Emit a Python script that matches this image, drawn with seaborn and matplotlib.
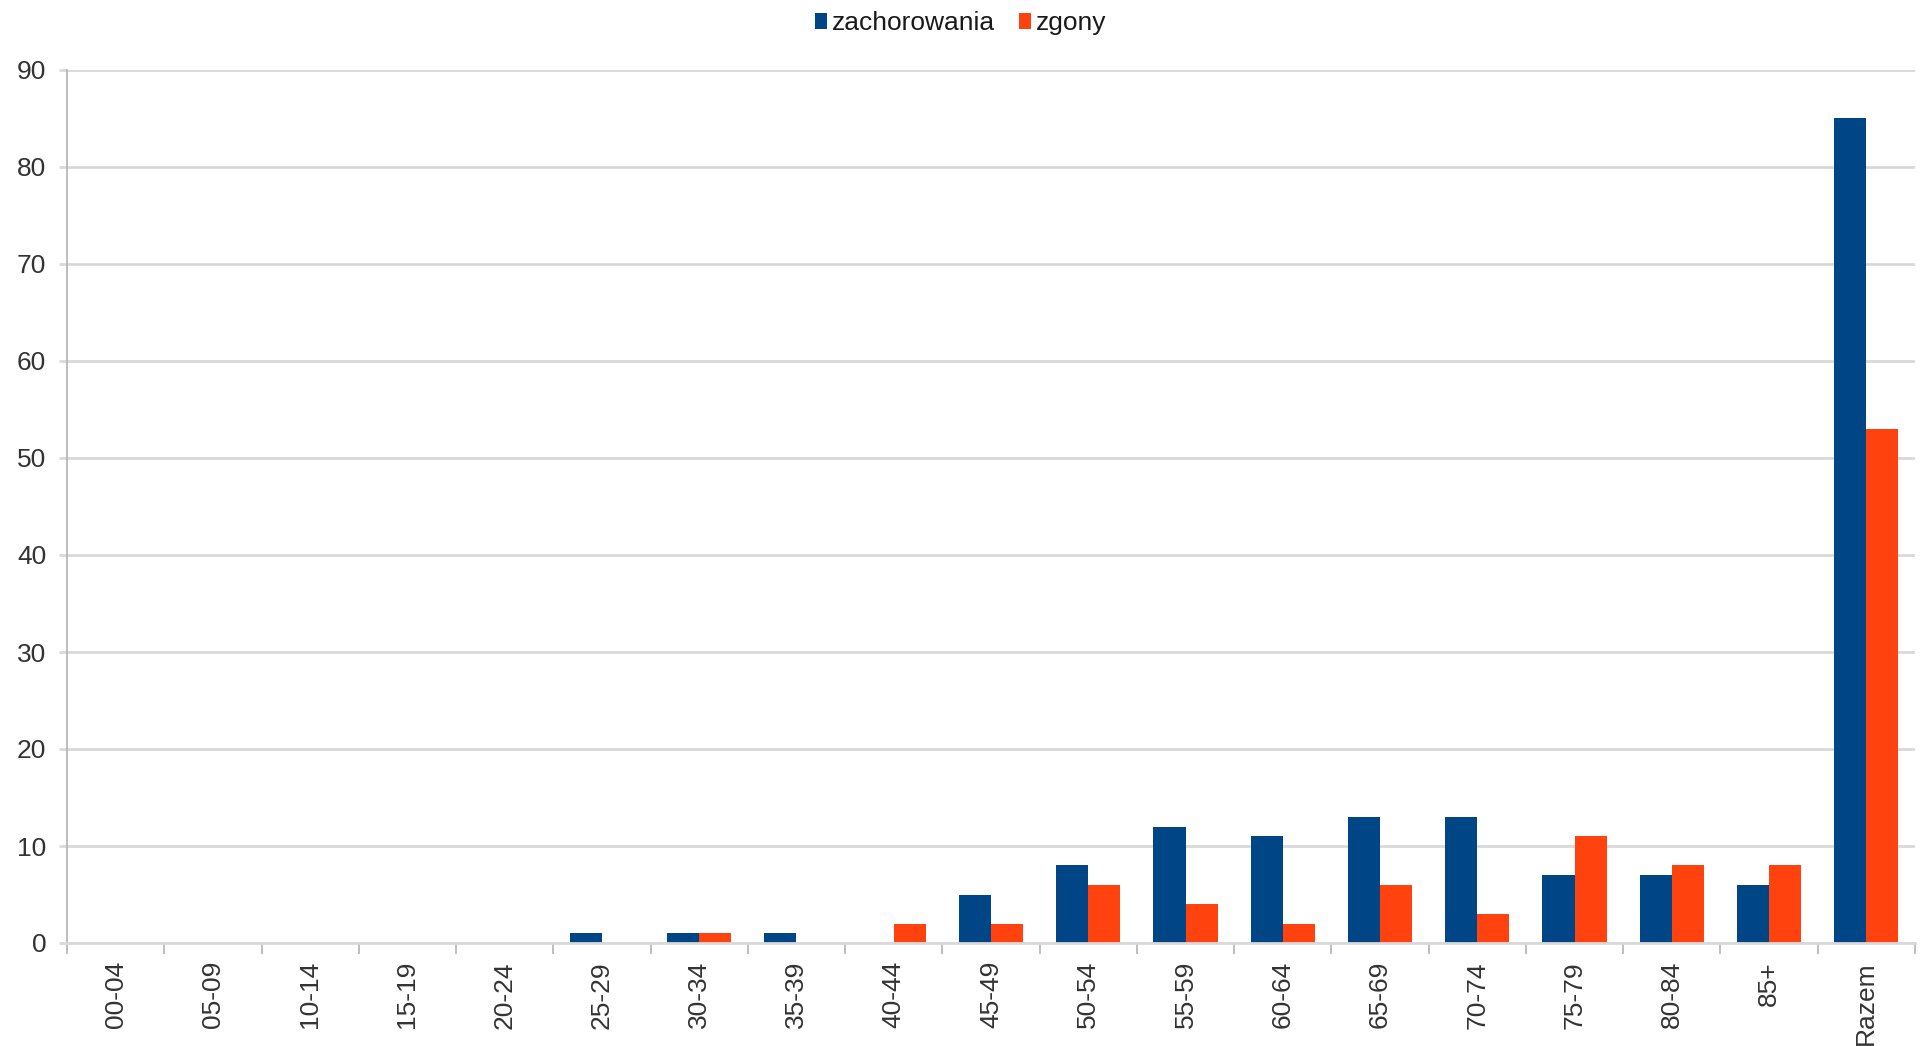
import numpy as np
import pandas as pd
import matplotlib
matplotlib.use("Agg")
import matplotlib.pyplot as plt
import seaborn as sns
from matplotlib.patches import Patch

categories = ["00-04", "05-09", "10-14", "15-19", "20-24", "25-29", "30-34", "35-39",
              "40-44", "45-49", "50-54", "55-59", "60-64", "65-69", "70-74", "75-79",
              "80-84", "85+", "Razem"]
zachorowania = [0, 0, 0, 0, 0, 1, 1, 1, 0, 5, 8, 12, 11, 13, 13, 7, 7, 6, 85]
zgony = [0, 0, 0, 0, 0, 0, 1, 0, 2, 2, 6, 4, 2, 6, 3, 11, 8, 8, 53]
series_names = ["zachorowania", "zgony"]
colors = ["#004586", "#ff420e"]
yticks = [0, 10, 20, 30, 40, 50, 60, 70, 80, 90]

df = pd.DataFrame({
    "grupa": categories * 2,
    "wartosc": zachorowania + zgony,
    "seria": [series_names[0]] * len(categories) + [series_names[1]] * len(categories),
})

sns.set_theme(style="white")
plt.rcParams["font.family"] = ["Liberation Sans", "DejaVu Sans"]

fig = plt.figure(figsize=(19.21, 10.46), dpi=100)
ax = fig.add_axes([67 / 1921, 1 - 943 / 1046, (1915 - 67) / 1921, (943 - 70) / 1046])

sns.barplot(data=df, x="grupa", y="wartosc", hue="seria", order=categories,
            hue_order=series_names, palette=colors, width=0.66, saturation=1,
            linewidth=0, ax=ax, legend=False)

ax.set_xlim(-0.5, len(categories) - 0.5)
ax.set_ylim(0, 90)
ax.set_yticks(yticks)
ax.set_yticklabels([str(v) for v in yticks])
ax.set_xlabel("")
ax.set_ylabel("")
ax.grid(axis="y", color="#d9d9d9", linewidth=2, zorder=0)
ax.set_axisbelow(True)
for s in ["top", "right"]:
    ax.spines[s].set_visible(False)
ax.spines["left"].set_color("#b3b3b3")
ax.spines["left"].set_linewidth(1.2)
ax.spines["bottom"].set_color("#d9d9d9")
ax.spines["bottom"].set_linewidth(2)

ax.set_xticks(range(len(categories)))
ax.set_xticklabels(categories, rotation=90, fontsize=19, color="#333333")
ax.set_xticks(np.arange(-0.5, len(categories), 1), minor=True)
ax.tick_params(axis="x", which="major", length=0, pad=13)
ax.tick_params(axis="x", which="minor", length=8, width=1.2, color="#b3b3b3", bottom=True)
ax.tick_params(axis="y", which="major", length=6, width=2, color="#d9d9d9", left=True,
               labelsize=19, labelcolor="#333333", pad=9)

handles = [Patch(facecolor=c, edgecolor="none") for c in colors]
fig.legend(handles, series_names, loc="upper center", bbox_to_anchor=(0.5, 1.012), ncol=2,
           frameon=False, fontsize=19, handlelength=0.45, handleheight=0.55,
           handletextpad=0.2, columnspacing=0.9, labelcolor="#1a1a1a")

fig.savefig("out.png", dpi=100, facecolor="white")
